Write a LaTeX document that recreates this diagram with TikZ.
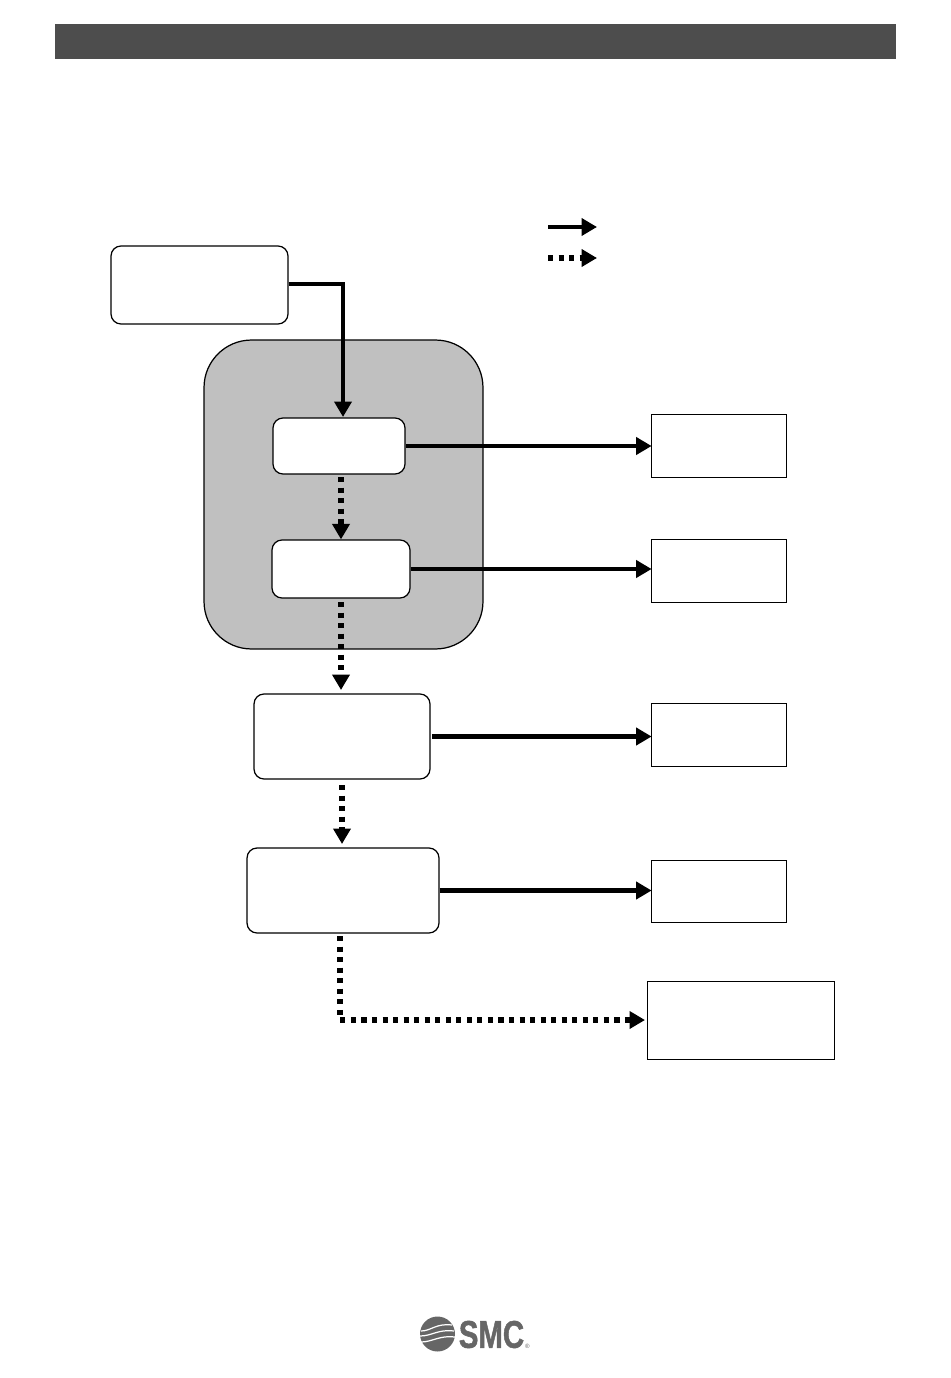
\documentclass[tikz,border=0pt]{standalone}
\usepackage{fontspec}
\setmainfont{Liberation Sans}
\newfontfamily\logofont[FakeBold=1.5]{Liberation Sans Bold}
\usetikzlibrary{arrows.meta}
\definecolor{barcolor}{HTML}{4D4D4D}
\definecolor{groupcolor}{HTML}{C0C0C0}
\definecolor{logocolor}{HTML}{666666}

\begin{document}
\begin{tikzpicture}[x=0.02cm,y=-0.02cm,
	round_box/.style={draw,fill=white,rounded corners=0.2cm,line width=0.7pt,inner sep=0pt},
	plain_box/.style={draw,fill=white,line width=0.45pt,inner sep=0pt},
	flow_line/.style={line width=2.75pt,shorten >=-0.02cm,-{Triangle[length=0.31cm,width=0.34cm]}},
	dot_line/.style={line width=2.9pt,dash pattern=on 2.9pt off 3.1pt,-{Triangle[length=0.31cm,width=0.34cm]}}]
		
		\useasboundingbox (0,0) rectangle (950,1378);
		
		\node[fill=barcolor,inner sep=0pt,minimum width=16.82cm,minimum height=0.7cm] (bar) at (475.5,41.5) {};
		\node[draw,fill=groupcolor,rounded corners=0.95cm,line width=0.7pt,inner sep=0pt,minimum width=5.58cm,minimum height=6.18cm] (group) at (343.5,494.5) {};
		
		\node[round_box,minimum width=3.54cm,minimum height=1.56cm] (source) at (199.5,285) {};
		\node[round_box,minimum width=2.64cm,minimum height=1.12cm] (stepa) at (339,446) {};
		\node[round_box,minimum width=2.76cm,minimum height=1.16cm] (stepb) at (341,569) {};
		\node[round_box,minimum width=3.52cm,minimum height=1.70cm] (stepc) at (342,736.5) {};
		\node[round_box,minimum width=3.84cm,minimum height=1.70cm] (stepd) at (343,890.5) {};
		
		\node[plain_box,minimum width=2.70cm,minimum height=1.26cm] (outa) at (718.5,445.5) {};
		\node[plain_box,minimum width=2.70cm,minimum height=1.26cm] (outb) at (718.5,570.5) {};
		\node[plain_box,minimum width=2.70cm,minimum height=1.26cm] (outc) at (718.5,734.5) {};
		\node[plain_box,minimum width=2.70cm,minimum height=1.24cm] (outd) at (718.5,891) {};
		\node[plain_box,minimum width=3.74cm,minimum height=1.56cm] (oute) at (740.5,1020) {};
		
		\coordinate (legenda) at (548,227);
		\coordinate (legendb) at (548,258);
		\coordinate (legendaend) at (597,227);
		\coordinate (legendbend) at (597,258);
		\coordinate (bendsource) at (343,284);
		\coordinate (bendout) at (340,1020);
		\coordinate (tipa) at (343,417);
		\coordinate (dotab) at (341,477);
		\coordinate (dotbc) at (341,602);
		\coordinate (tipc) at (341,690);
		\coordinate (dotcd) at (342,785);
		\coordinate (tipd) at (342,844);
		\coordinate (dotde) at (340,936);
		\coordinate (tipe) at (645,1020);
		
		\draw[flow_line,shorten >=0pt] (legenda) -- (legendaend);
		\draw[dot_line] (legendb) -- (legendbend);
		
		\draw[line width=2.75pt,-{Triangle[length=0.31cm,width=0.34cm]}] (source.east |- bendsource) -- (bendsource) -- (tipa);
		\draw[flow_line] (stepa.east) -- (stepa.east -| outa.west);
		\draw[flow_line] (stepb.east) -- (stepb.east -| outb.west);
		\draw[flow_line] ([xshift=0.03cm]stepc.east) -- (stepc.east -| outc.west);
		\draw[flow_line] (stepd.east) -- (stepd.east -| outd.west);
		
		\draw[dot_line] (dotab) -- (stepb.north);
		\draw[dot_line] (dotbc) -- (tipc);
		\draw[dot_line] (dotcd) -- (tipd);
		\draw[dot_line] (dotde) -- (bendout) -- (tipe);
		
		% logo
		\node[circle,fill=logocolor,minimum size=0.7cm,inner sep=0pt] (globe) at (437.5,1334) {};
		\draw[white,line width=0.7pt] (421,1331) .. controls (431,1331) and (436,1323) .. (452,1325);
		\draw[white,line width=0.7pt] (420,1336) .. controls (432,1336) and (438,1329) .. (454,1331);
		\draw[white,line width=0.7pt] (421,1342) .. controls (432,1342) and (440,1335) .. (455,1337);
		\node[text=logocolor,font=\logofont\fontsize{22}{22}\selectfont,xscale=0.76,inner sep=0pt] (logo) at (491.5,1334.5) {SMC};
		\node[text=logocolor,font=\fontsize{3.5}{4}\selectfont,inner sep=0pt] (reg) at (527.5,1346) {®};
		
		\end{tikzpicture}
\end{document}
